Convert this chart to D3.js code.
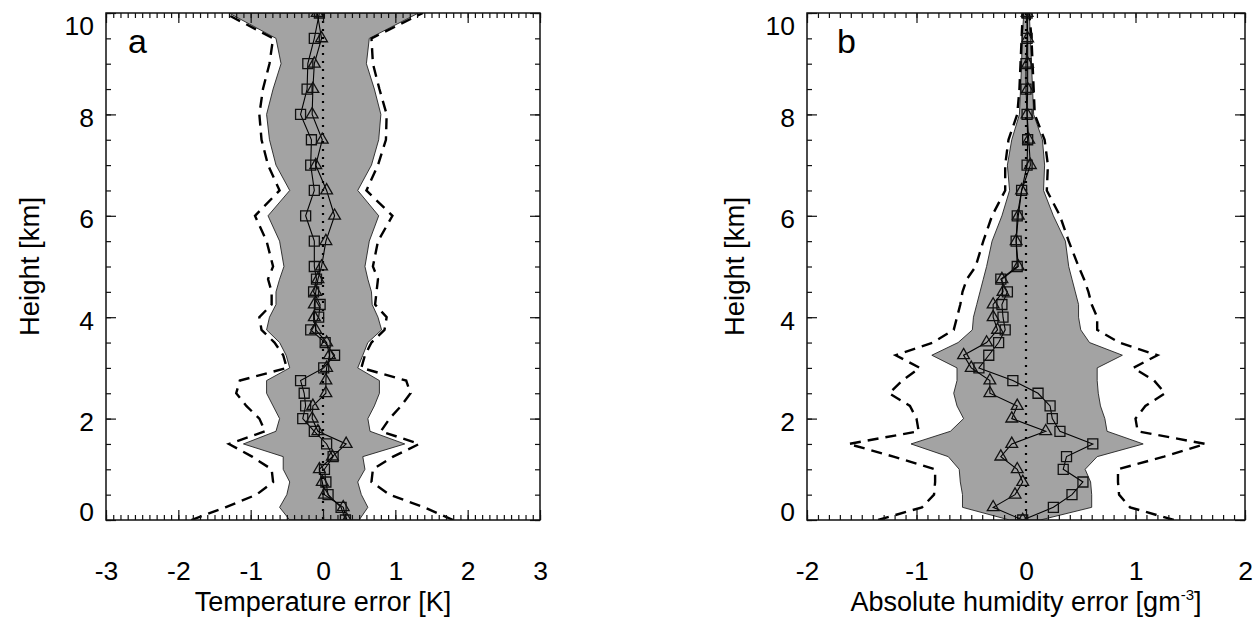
<!DOCTYPE html>
<meta charset="utf-8">
<style>
  body { margin: 0; background: #fff; }
  svg text { font-family: "Liberation Sans", Arial, sans-serif; fill: #000; }
</style>

<script src="https://d3js.org/d3.v7.min.js"></script>

<div id="my_dataviz"></div>

<script>

// heights of the retrieval levels (km)
var heights = [0, 0.25, 0.5, 0.75, 1, 1.25, 1.5, 1.75, 2, 2.25, 2.5, 2.75, 3, 3.25, 3.5, 3.75,
               4, 4.25, 4.5, 4.75, 5, 5.5, 6, 6.5, 7, 7.5, 8, 8.5, 9, 9.5, 10];

// panel a : temperature error [K]
var tempSquare   = [0.31, 0.25, 0.07, 0.04, 0.02, 0.14, 0.05, -0.12, -0.28, -0.24, -0.26, -0.31, 0.01, 0.16, 0.03, -0.17,
                    -0.06, -0.04, -0.13, -0.09, -0.12, -0.12, -0.24, -0.12, -0.17, -0.16, -0.31, -0.22, -0.21, -0.12, -0.05];
var tempTriangle = [0.33, 0.28, 0.02, -0.01, -0.05, 0.13, 0.32, -0.07, -0.15, -0.14, 0.04, 0.04, 0.05, 0.09, 0.05, -0.10,
                    -0.12, -0.12, -0.10, -0.07, -0.02, 0.04, 0.16, 0.05, -0.10, -0.01, -0.15, -0.14, -0.12, -0.02, -0.08];
var tempShadeLo  = [-0.46, -0.60, -0.50, -0.46, -0.55, -0.55, -1.10, -0.65, -0.60, -0.69, -0.78, -0.78, -0.46, -0.51, -0.60, -0.78,
                    -0.74, -0.65, -0.65, -0.60, -0.54, -0.60, -0.76, -0.46, -0.65, -0.74, -0.78, -0.69, -0.58, -0.65, -1.30];
var tempShadeHi  = [0.50, 0.62, 0.53, 0.48, 0.58, 0.55, 1.13, 0.65, 0.62, 0.71, 0.78, 0.78, 0.48, 0.55, 0.62, 0.81,
                    0.76, 0.68, 0.67, 0.62, 0.58, 0.64, 0.77, 0.48, 0.67, 0.77, 0.80, 0.71, 0.60, 0.64, 1.32];
var tempDashLo   = [-1.82, -1.35, -0.92, -0.69, -0.71, -0.98, -1.30, -0.80, -0.88, -1.06, -1.20, -1.15, -0.50, -0.55, -0.67, -0.85,
                    -0.88, -0.71, -0.71, -0.76, -0.69, -0.78, -0.94, -0.60, -0.76, -0.85, -0.88, -0.83, -0.74, -0.69, -1.36];
var tempDashHi   = [1.80, 1.40, 0.92, 0.67, 0.69, 0.97, 1.33, 0.80, 0.92, 1.08, 1.21, 1.15, 0.53, 0.58, 0.67, 0.85,
                    0.88, 0.72, 0.74, 0.76, 0.69, 0.76, 0.96, 0.60, 0.76, 0.87, 0.88, 0.78, 0.69, 0.67, 1.38];

// panel b : absolute humidity error [g m-3]
var humSquare    = [-0.03, 0.25, 0.42, 0.52, 0.34, 0.37, 0.61, 0.31, 0.24, 0.22, 0.11, -0.12, -0.43, -0.34, -0.25, -0.19,
                    -0.21, -0.22, -0.17, -0.23, -0.08, -0.09, -0.08, -0.04, 0.01, 0.015, 0.01, 0.0, 0.0, 0.01, 0.01];
var humTriangle  = [-0.03, -0.30, -0.10, -0.03, -0.08, -0.23, -0.13, 0.18, -0.13, -0.08, -0.33, -0.33, -0.50, -0.57, -0.36, -0.26,
                    -0.30, -0.30, -0.21, -0.22, -0.07, -0.09, -0.07, -0.04, 0.04, 0.025, 0.01, 0.015, 0.015, 0.015, 0.01];
var humShadeLo   = [-0.15, -0.58, -0.58, -0.60, -0.61, -0.71, -1.05, -0.69, -0.57, -0.63, -0.66, -0.63, -0.63, -0.86, -0.62, -0.49,
                    -0.48, -0.45, -0.42, -0.39, -0.36, -0.31, -0.22, -0.15, -0.17, -0.13, -0.06, -0.05, -0.04, -0.035, -0.02];
var humShadeHi   = [0.13, 0.60, 0.60, 0.59, 0.54, 0.65, 1.07, 0.74, 0.72, 0.68, 0.66, 0.65, 0.65, 0.88, 0.58, 0.50,
                    0.48, 0.48, 0.45, 0.42, 0.39, 0.36, 0.25, 0.16, 0.17, 0.15, 0.07, 0.06, 0.05, 0.04, 0.03];
var humDashLo    = [-1.35, -0.95, -0.84, -0.83, -0.83, -1.21, -1.62, -0.98, -1.00, -1.06, -1.25, -1.13, -0.97, -1.19, -0.85, -0.66,
                    -0.63, -0.60, -0.58, -0.54, -0.46, -0.39, -0.31, -0.19, -0.19, -0.16, -0.08, -0.06, -0.05, -0.04, -0.03];
var humDashHi    = [1.35, 0.95, 0.85, 0.84, 0.84, 1.26, 1.64, 1.02, 1.00, 1.09, 1.27, 1.17, 0.98, 1.20, 0.85, 0.65,
                    0.65, 0.60, 0.57, 0.53, 0.48, 0.39, 0.31, 0.19, 0.20, 0.17, 0.08, 0.07, 0.06, 0.05, 0.03];

// tick labels
var tempTicks   = [-3, -2, -1, 0, 1, 2, 3];
var humTicks    = [-2, -1, 0, 1, 2];
var heightTicks = [0, 2, 4, 6, 8, 10];

var W = 1260, H = 618;

var svg = d3.select("#my_dataviz")
  .append("svg")
    .attr("width", W)
    .attr("height", H);

// plain hyphen for negatives, like the original plot
var fmt = function(d) { return String(d) };

function drawPanel(p) {
  var width = p.right - p.left,
      height = 507;

  var g = svg.append("g")
    .attr("transform", "translate(" + p.left + ",13)");

  var x = d3.scaleLinear().domain(p.domain).range([0, width]);
  var y = d3.scaleLinear().domain([0, 10]).range([height, 0]);

  g.append("clipPath").attr("id", "clip" + p.id)
    .append("rect").attr("width", width).attr("height", height);

  var plot = g.append("g").attr("clip-path", "url(#clip" + p.id + ")");

  var rows = heights.map(function(h, i) {
    return {h: h, sq: p.sq[i], tri: p.tri[i], lo: p.shLo[i], hi: p.shHi[i], dlo: p.dLo[i], dhi: p.dHi[i]};
  });

  // grey band
  plot.append("path")
    .datum(rows)
    .attr("fill", "#a3a3a3")
    .attr("stroke", "#222")
    .attr("stroke-width", 0.9)
    .attr("d", d3.area()
      .y(function(d) { return y(d.h) })
      .x0(function(d) { return x(d.lo) })
      .x1(function(d) { return x(d.hi) }));

  // zero line
  plot.append("line")
    .attr("x1", x(0)).attr("x2", x(0))
    .attr("y1", 0).attr("y2", height)
    .attr("stroke", "black")
    .attr("stroke-width", 2.2)
    .attr("stroke-dasharray", "2,6");

  // dashed envelopes
  ["dlo", "dhi"].forEach(function(k) {
    plot.append("path")
      .datum(rows)
      .attr("fill", "none")
      .attr("stroke", "black")
      .attr("stroke-width", 2.4)
      .attr("stroke-dasharray", "11,7")
      .attr("d", d3.line()
        .y(function(d) { return y(d.h) })
        .x(function(d) { return x(d[k]) }));
  });

  // the two series
  [["sq", d3.symbolSquare, 100], ["tri", d3.symbolTriangle, 60]].forEach(function(s) {
    plot.append("path")
      .datum(rows)
      .attr("fill", "none")
      .attr("stroke", "black")
      .attr("stroke-width", 1.1)
      .attr("d", d3.line()
        .y(function(d) { return y(d.h) })
        .x(function(d) { return x(d[s[0]]) }));

    plot.append("g")
      .selectAll("path")
      .data(rows)
      .enter()
      .append("path")
        .attr("transform", function(d) { return "translate(" + x(d[s[0]]) + "," + y(d.h) + ")" })
        .attr("d", d3.symbol().type(s[1]).size(s[2]))
        .attr("fill", "none")
        .attr("stroke", "#111")
        .attr("stroke-width", 1.3);
  });

  // ticks on all four sides, pointing inward
  var minorX = d3.range(p.domain[0], p.domain[1] + 0.001, 0.1).map(function(v) { return Math.round(v * 10) / 10 });
  var minorY = d3.range(0, 10.001, 0.5);

  function tickStyle(sel) {
    sel.select(".domain").remove();
    sel.selectAll("line").attr("stroke", "#111").attr("stroke-width", 1.2);
  }

  g.append("g").attr("transform", "translate(0," + height + ")")
    .call(d3.axisBottom(x).tickValues(minorX).tickSize(-5).tickFormat("")).call(tickStyle);
  g.append("g")
    .call(d3.axisTop(x).tickValues(minorX).tickSize(-5).tickFormat("")).call(tickStyle);
  g.append("g")
    .call(d3.axisLeft(y).tickValues(minorY).tickSize(-5).tickFormat("")).call(tickStyle);
  g.append("g").attr("transform", "translate(" + width + ",0)")
    .call(d3.axisRight(y).tickValues(minorY).tickSize(-5).tickFormat("")).call(tickStyle);

  var xb = g.append("g").attr("transform", "translate(0," + height + ")")
    .call(d3.axisBottom(x).tickValues(p.ticks).tickSize(-10).tickPadding(41).tickFormat(fmt))
    .call(tickStyle);
  g.append("g")
    .call(d3.axisTop(x).tickValues(p.ticks).tickSize(-10).tickFormat("")).call(tickStyle);
  var yl = g.append("g")
    .call(d3.axisLeft(y).tickValues(heightTicks).tickSize(-10).tickPadding(12).tickFormat(fmt))
    .call(tickStyle);
  g.append("g").attr("transform", "translate(" + width + ",0)")
    .call(d3.axisRight(y).tickValues(heightTicks).tickSize(-10).tickFormat("")).call(tickStyle);

  [xb, yl].forEach(function(a) {
    a.selectAll("text").attr("font-size", 26.5).attr("font-family", null).attr("fill", "#000");
  });
  // end labels are nudged inside the frame
  yl.selectAll("text").attr("dy", function(d) {
    return d === 10 ? "0.8em" : (d === 0 ? "0.02em" : "0.45em");
  });

  // frame
  g.append("rect")
    .attr("width", width).attr("height", height)
    .attr("fill", "none")
    .attr("stroke", "#111")
    .attr("stroke-width", 1.5);

  // panel letter
  g.append("text")
    .attr("x", p.letterX).attr("y", 40)
    .attr("font-size", 34)
    .text(p.letter);

  // axis titles
  var xt = g.append("text")
    .attr("x", width / 2).attr("y", 598)
    .attr("text-anchor", "middle")
    .attr("font-size", 27);
  xt.append("tspan").text(p.xTitle);
  if (p.xSup) {
    xt.append("tspan").attr("font-size", 15).attr("dy", -11).text(p.xSup);
    xt.append("tspan").attr("dy", 11).text("]");
  }

  g.append("text")
    .attr("transform", "translate(" + p.yTitleX + "," + (height / 2) + ") rotate(-90)")
    .attr("text-anchor", "middle")
    .attr("font-size", 27.5)
    .text("Height [km]");
}

drawPanel({
  id: "a", left: 106, right: 540, domain: [-3, 3], ticks: tempTicks,
  sq: tempSquare, tri: tempTriangle, shLo: tempShadeLo, shHi: tempShadeHi, dLo: tempDashLo, dHi: tempDashHi,
  letter: "a", letterX: 22, xTitle: "Temperature error [K]", yTitleX: -67
});

drawPanel({
  id: "b", left: 807, right: 1245, domain: [-2, 2], ticks: humTicks,
  sq: humSquare, tri: humTriangle, shLo: humShadeLo, shHi: humShadeHi, dLo: humDashLo, dHi: humDashHi,
  letter: "b", letterX: 30, xTitle: "Absolute humidity error [gm", xSup: "-3", yTitleX: -63
});

</script>
